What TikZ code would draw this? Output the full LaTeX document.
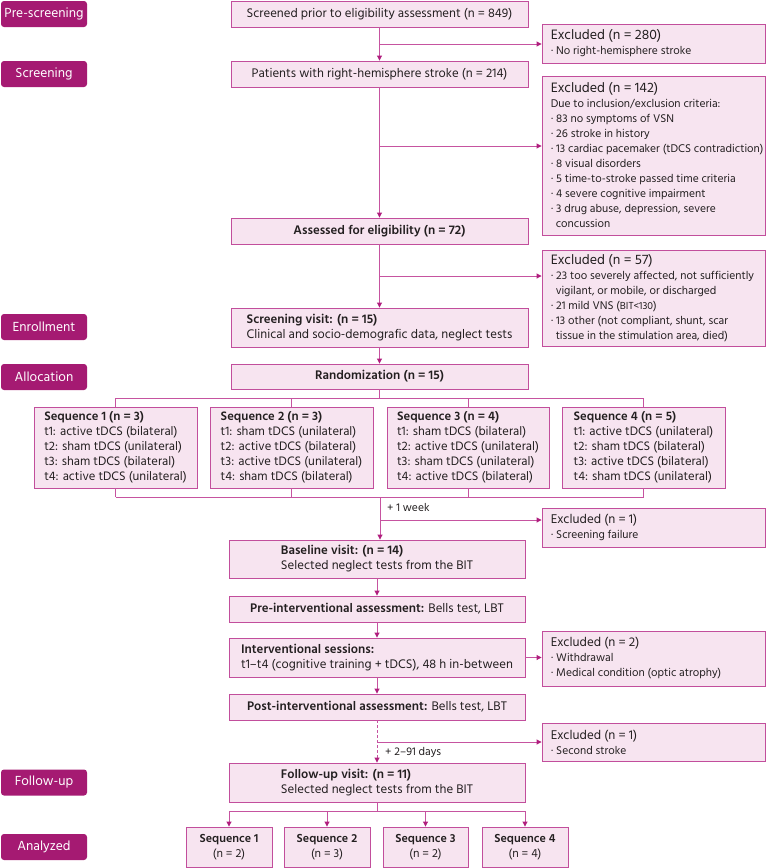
\documentclass[tikz,border=0pt]{standalone}
\usepackage{fontspec}
\setmainfont{Hind Madurai}
\usetikzlibrary{arrows.meta,calc}
\definecolor{lab}{HTML}{A51A72}
\definecolor{bfill}{HTML}{F7E4F0}
\definecolor{bdraw}{HTML}{C24E9C}
\definecolor{ln}{HTML}{C653A0}
\definecolor{tipc}{HTML}{B01E7E}
\definecolor{txt}{HTML}{231F20}
\newcommand{\bx}[7]{\node[box, minimum width={#4pt-#2pt}, minimum height={#5pt-#3pt}, #6] (#1) at ({(#2+#4)/2},{(#3+#5)/2}) {#7};}
\newcommand{\exb}[4]{\node[box, minimum width=223pt, minimum height={#3pt-#2pt}] (#1) at (653.5,{(#2+#3)/2}) {};
  \node[extext] (#1t) at ([xshift=9pt]#1.west) {#4};}
\newcommand{\ttl}[1]{{\fontsize{14}{15}\selectfont #1}}
\newcommand{\ttll}[1]{{\fontsize{13}{15}\selectfont #1}}
\begin{document}
\begin{tikzpicture}[x=1pt,y=-1pt,
  box/.style={draw=bdraw, fill=bfill, line width=0.9pt, inner sep=0pt, font=\fontsize{12.8}{15}\selectfont, text=txt, align=center},
  seqbox/.style={font=\fontsize{12.6}{15}\selectfont, align=left},
  anbox/.style={font=\fontsize{12}{15}\selectfont},
  extext/.style={anchor=west, inner sep=0pt, align=left, font=\fontsize{11.5}{15}\selectfont, text=txt},
  lbl/.style={fill=lab, rounded corners=3pt, text=white, minimum width=86pt, minimum height=26pt, inner sep=0pt, font=\fontsize{13.5}{15}\selectfont},
  conn/.style={draw=ln, line width=0.9pt},
  arr/.style={conn, -{Triangle[length=5pt,width=5pt,color=tipc]}},
  note/.style={anchor=west, inner sep=0pt, font=\fontsize{11.5}{14}\selectfont, text=txt}
]
\useasboundingbox (0,0) rectangle (766,868);

% stage labels
\node[lbl] (L1) at (44,14) {Pre-screening};
\node[lbl] (L2) at (44,74) {Screening};
\node[lbl] (L3) at (44,327) {Enrollment};
\node[lbl] (L4) at (44,377) {Allocation};
\node[lbl] (L5) at (44,782.5) {Follow-up};
\node[lbl] (L6) at (44,847) {Analyzed};

% main column (upper)
\bx{scr}{231}{1}{528}{27}{}{Screened prior to eligibility assessment (n = 849)}
\bx{pat}{231}{61}{528}{87}{}{Patients with right-hemisphere stroke (n = 214)}
\bx{ass}{231}{218}{528}{244}{}{\textbf{Assessed for eligibility (n = 72)}}
\bx{sv}{231}{308}{528}{347}{align=left}{\textbf{Screening visit: (n = 15)}\\Clinical and socio-demografic data, neglect tests}
\bx{ran}{231}{364}{528}{389}{}{\textbf{Randomization (n = 15)}}

% sequences
\bx{s1}{34}{407}{197}{488}{seqbox}{\textbf{Sequence 1 (n = 3)}\\t1: active tDCS (bilateral)\\t2: sham tDCS (unilateral)\\t3: sham tDCS (bilateral)\\t4: active tDCS (unilateral)}
\bx{s2}{210}{407}{373}{488}{seqbox}{\textbf{Sequence 2 (n = 3)}\\t1: sham tDCS (unilateral)\\t2: active tDCS (bilateral)\\t3: active tDCS (unilateral)\\t4: sham tDCS (bilateral)}
\bx{s3}{387}{407}{549}{488}{seqbox}{\textbf{Sequence 3 (n = 4)}\\t1: sham tDCS (bilateral)\\t2: active tDCS (unilateral)\\t3: sham tDCS (unilateral)\\t4: active tDCS (bilateral)}
\bx{s4}{562}{407}{725}{488}{seqbox}{\textbf{Sequence 4 (n = 5)}\\t1: active tDCS (unilateral)\\t2: sham tDCS (bilateral)\\t3: active tDCS (bilateral)\\t4: sham tDCS (unilateral)}

% main column (lower)
\bx{base}{229}{540}{525}{578}{align=left}{\textbf{Baseline visit: (n = 14)}\\Selected neglect tests from the BIT}
\bx{pre}{229}{596}{525}{622}{}{\textbf{Pre-interventional assessment:} Bells test, LBT}
\bx{int}{229}{638}{525}{677}{align=left}{\textbf{Interventional sessions:}\\t1–t4 (cognitive training + tDCS), 48 h in-between}
\bx{post}{229}{694}{525}{720}{}{\textbf{Post-interventional assessment:} Bells test, LBT}
\bx{fu}{229}{763}{525}{802}{align=left}{\textbf{Follow-up visit: (n = 11)}\\Selected neglect tests from the BIT}

% analyzed
\bx{a1}{186}{827}{272}{867}{anbox}{\textbf{Sequence 1}\\(n = 2)}
\bx{a2}{284}{827}{370}{867}{anbox}{\textbf{Sequence 2}\\(n = 3)}
\bx{a3}{383}{827}{468}{867}{anbox}{\textbf{Sequence 3}\\(n = 2)}
\bx{a4}{482}{827}{568}{867}{anbox}{\textbf{Sequence 4}\\(n = 4)}

% excluded boxes
\exb{e1}{24}{63}{\ttl{Excluded (n = 280)}\\· No right-hemisphere stroke}
\exb{e2}{76}{235}{\ttl{Excluded (n = 142)}\\Due to inclusion/exclusion criteria:\\· 83 no symptoms of VSN\\· 26 stroke in history\\· 13 cardiac pacemaker (tDCS contradiction)\\· 8 visual disorders\\· 5 time-to-stroke passed time criteria\\· 4 severe cognitive impairment\\· 3 drug abuse, depression, severe\\\hspace*{5pt}concussion}
\exb{e3}{250}{346}{\ttl{Excluded (n = 57)}\\· 23 too severely affected, not sufficiently\\\hspace*{5pt}vigilant, or mobile, or discharged\\· 21 mild VNS ({\fontsize{10.5}{15}\selectfont BIT<130})\\· 13 other (not compliant, shunt, scar\\\hspace*{5pt}tissue in the stimulation area, died)}
\exb{e4}{508}{547}{\ttll{Excluded (n = 1)}\\· Screening failure}
\exb{e5}{631}{686}{\ttll{Excluded (n = 2)}\\· Withdrawal\\· Medical condition (optic atrophy)}
\exb{e6}{723}{761}{\ttll{Excluded (n = 1)}\\· Second stroke}

% connectors upper
\draw[arr] (scr) -- (pat);
\coordinate (b1) at (379.5,44);
\draw[arr] (b1) -- (b1 -| e1.west);
\draw[arr] (pat) -- (ass);
\coordinate (b2) at (379.5,146);
\draw[arr] (b2) -- (b2 -| e2.west);
\draw[arr] (ass) -- (sv);
\coordinate (b3) at (379.5,276);
\draw[arr] (b3) -- (b3 -| e3.west);
\draw[arr] (sv) -- (ran);

% randomization tree
\coordinate (r1) at (379.5,398);
\draw[conn] (ran.south) -- (r1);
\draw[conn] (s1.north |- r1) -- (s4.north |- r1);
\foreach \s in {s1,s2,s3,s4} \draw[conn] (\s.north |- r1) -- (\s.north);
\coordinate (r2) at (380,497);
\draw[conn] (s1.south |- r2) -- (s4.south |- r2);
\foreach \s in {s1,s2,s3,s4} \draw[conn] (\s.south) -- (\s.south |- r2);
\draw[arr] (r2) -- (r2 |- base.north);
\coordinate (b4) at (380,520);
\draw[arr] (b4) -- (b4 -| e4.west);
\node[note] (w1) at (387,507) {+ 1 week};

% lower column
\draw[arr] (base) -- (pre);
\draw[arr] (pre) -- (int);
\draw[arr] (int.east) -- (int.east -| e5.west);
\draw[arr] (int) -- (post);
\draw[arr, dash pattern=on 3pt off 2pt] (post) -- (fu);
\coordinate (b6) at (377,742);
\draw[arr] (b6) -- (b6 -| e6.west);
\node[note] (w2) at (385,752) {+ 2–91 days};

% follow-up tree
\coordinate (f1) at (377,811);
\draw[conn] (fu.south) -- (f1);
\draw[conn] (a1.north |- f1) -- (a4.north |- f1);
\foreach \s in {a1,a2,a3,a4} \draw[arr] (\s.north |- f1) -- (\s.north);
\end{tikzpicture}
\end{document}
